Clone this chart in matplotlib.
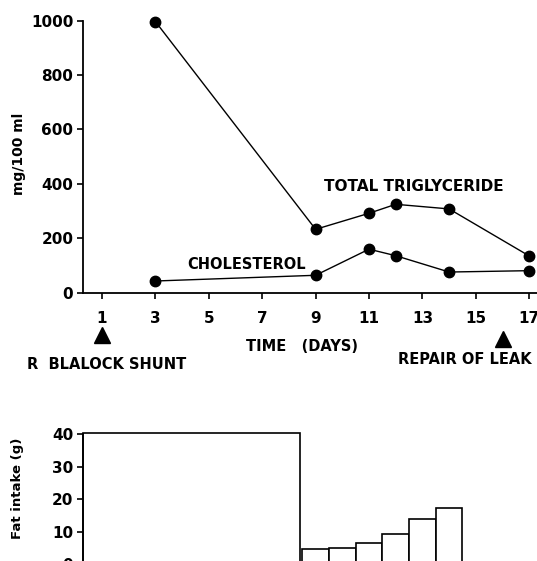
import matplotlib
matplotlib.use("Agg")
import matplotlib.pyplot as plt

plt.rcParams["font.family"] = ["DejaVu Sans"]
plt.rcParams["font.weight"] = "bold"

# ---------------------------------------------------------------------------
# Data
# ---------------------------------------------------------------------------

TG_DAYS = [3, 9, 11, 12, 14, 17]
TG_VALUES = [997, 233, 292, 325, 308, 135]

CHOL_DAYS = [3, 9, 11, 12, 14, 17]
CHOL_VALUES = [43, 64, 160, 136, 76, 81]

DAY_TICKS = [1, 3, 5, 7, 9, 11, 13, 15, 17]
MG_TICKS = [0, 200, 400, 600, 800, 1000]

EVENT_DAYS = [1, 16]
EVENT_LABELS = ["R  BLALOCK SHUNT", "REPAIR OF LEAK"]

# initial high-fat period, then daily intake
HIGH_FAT_START = 0.29
HIGH_FAT_END = 8.42
HIGH_FAT_VALUE = 40.5
FAT_DAYS = [9, 10, 11, 12, 13, 14]
FAT_VALUES = [4.6, 4.9, 6.4, 9.3, 13.8, 17.2]
FAT_TICKS = [0, 10, 20, 30, 40]

XLIM = (0.29, 17.29)

# ---------------------------------------------------------------------------
# Figure
# ---------------------------------------------------------------------------

W, H = 537, 561
fig = plt.figure(figsize=(W / 100, H / 100), dpi=100)


def _frac(x0, y0, x1, y1):
    return [x0 / W, 1 - y1 / H, (x1 - x0) / W, (y1 - y0) / H]


ax = fig.add_axes(_frac(83, 20.7, 537, 292.7))
ax_fat = fig.add_axes(_frac(83, 434.3, 537, 564.2))

# --- lipids panel
ax.plot(TG_DAYS, TG_VALUES, color="black", lw=1.0, marker="o", ms=7.5, clip_on=False)
ax.plot(CHOL_DAYS, CHOL_VALUES, color="black", lw=1.0, marker="o", ms=7.5, clip_on=False)

ax.set_xlim(*XLIM)
ax.set_ylim(0, 1000)
ax.set_xticks(DAY_TICKS)
ax.set_yticks(MG_TICKS)
ax.tick_params(axis="x", length=4, width=1.2, pad=9, labelsize=11)
ax.tick_params(axis="y", length=4, width=1.2, pad=3, labelsize=11)
for lab in ax.get_xticklabels() + ax.get_yticklabels():
    lab.set_fontweight("bold")
ax.spines[["top", "right"]].set_visible(False)
ax.spines[["left", "bottom"]].set_linewidth(1.3)
ax.set_ylabel("mg/100 ml", fontsize=10, fontweight="bold")
ax.yaxis.set_label_coords(-0.126, 0.512)

ax.text(12.69, 392, "TOTAL TRIGLYCERIDE", ha="center", va="center", fontsize=11, fontweight="bold")
ax.text(6.43, 105, "CHOLESTEROL", ha="center", va="center", fontsize=10.5, fontweight="bold")
ax.text(8.49, -196, "TIME   (DAYS)", ha="center", va="center", fontsize=10.5, fontweight="bold", clip_on=False)

ax.plot(EVENT_DAYS[0], -156, marker="^", ms=11, color="black", clip_on=False, ls="none")
ax.plot(EVENT_DAYS[1], -171, marker="^", ms=11, color="black", clip_on=False, ls="none")
ax.text(-1.81, -263, EVENT_LABELS[0], ha="left", va="center", fontsize=10.5, fontweight="bold", clip_on=False)
ax.text(17.1, -245, EVENT_LABELS[1], ha="right", va="center", fontsize=10.5, fontweight="bold", clip_on=False)

# --- fat intake panel
ax_fat.bar(HIGH_FAT_START, HIGH_FAT_VALUE, width=HIGH_FAT_END - HIGH_FAT_START, align="edge",
           facecolor="white", edgecolor="black", lw=1.2, clip_on=False)
ax_fat.bar(FAT_DAYS, FAT_VALUES, width=1.0, facecolor="white", edgecolor="black", lw=1.2, clip_on=False)
ax_fat.set_xlim(*XLIM)
ax_fat.set_ylim(0, 40)
ax_fat.set_yticks(FAT_TICKS)
ax_fat.set_xticks([])
ax_fat.tick_params(axis="y", length=4, width=1.2, pad=3, labelsize=11)
for lab in ax_fat.get_yticklabels():
    lab.set_fontweight("bold")
ax_fat.spines[["top", "right"]].set_visible(False)
ax_fat.spines[["left", "bottom"]].set_linewidth(1.3)
ax_fat.set_ylabel("Fat intake (g)", fontsize=9.5, fontweight="bold")
ax_fat.yaxis.set_label_coords(-0.131, 0.587)

fig.savefig("out.png", dpi=100)
